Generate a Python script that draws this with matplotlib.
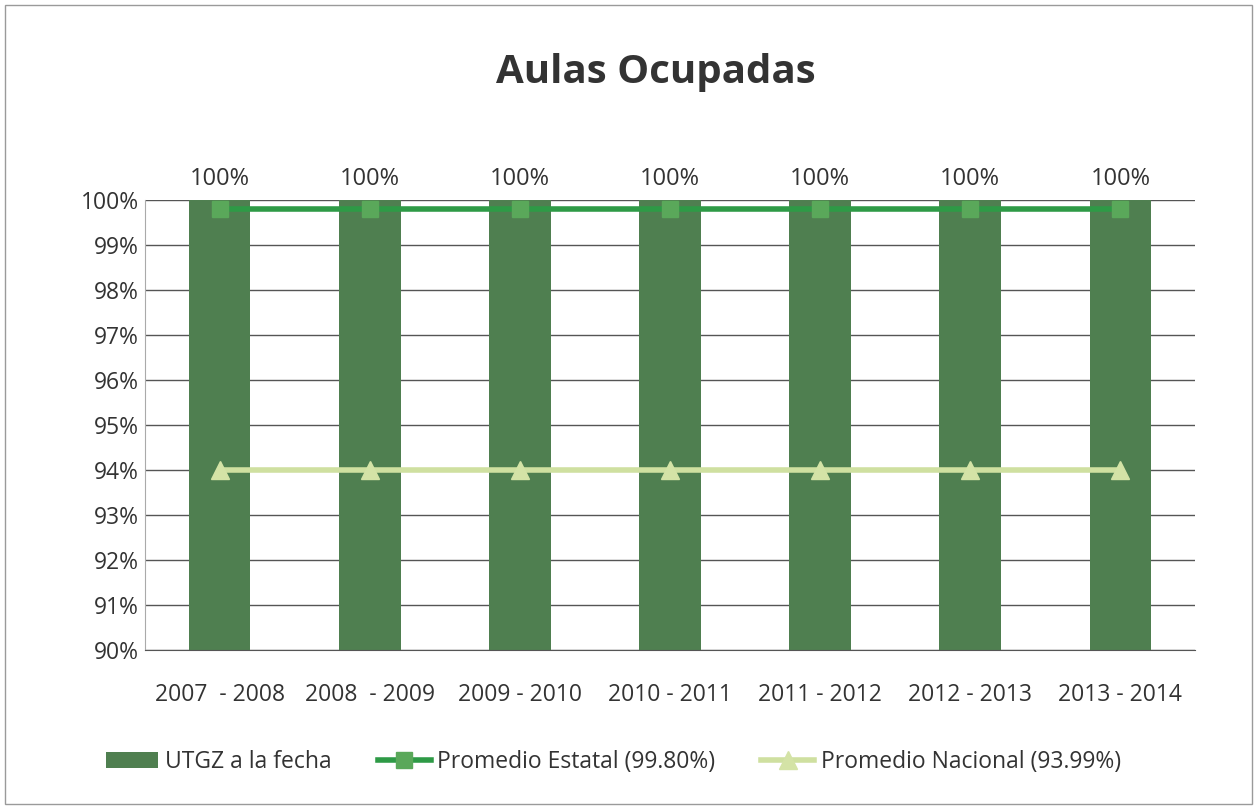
import matplotlib
matplotlib.use("Agg")
import matplotlib.pyplot as plt
from matplotlib.patches import Rectangle

categories = ["2007  - 2008", "2008  - 2009", "2009 - 2010", "2010 - 2011", "2011 - 2012", "2012 - 2013", "2013 - 2014"]
utgz = [100, 100, 100, 100, 100, 100, 100]
estatal = [99.80, 99.80, 99.80, 99.80, 99.80, 99.80, 99.80]
nacional = [93.99, 93.99, 93.99, 93.99, 93.99, 93.99, 93.99]
yticks = [90, 91, 92, 93, 94, 95, 96, 97, 98, 99, 100]

plt.rcParams['font.family'] = ['Open Sans', 'DejaVu Sans']

fig = plt.figure(figsize=(12.57, 8.09), dpi=100)
fig.patches.append(Rectangle((0.004, 0.006), 0.992, 0.988, transform=fig.transFigure,
                             fill=False, edgecolor='#9a9a9a', linewidth=1.0))
ax = fig.add_axes([0.115, 0.197, 0.836, 0.556])

x = list(range(len(categories)))
ax.bar(x, utgz, width=0.41, color='#4f7f50', zorder=2, label='UTGZ a la fecha')
ax.plot(x, estatal, color='#2e9a46', linewidth=4, marker='s', markersize=12,
        markerfacecolor='#5aa85a', markeredgecolor='#5aa85a', zorder=3,
        label='Promedio Estatal (99.80%)')
ax.plot(x, nacional, color='#cfe0a0', linewidth=4, marker='^', markersize=13,
        markerfacecolor='#d4e3a6', markeredgecolor='#d4e3a6', zorder=3,
        label='Promedio Nacional (93.99%)')

for xi, v in zip(x, utgz):
    ax.text(xi, v + 0.2, f"{v:.0f}%", ha='center', va='bottom', fontsize=17, color='#333333')

ax.set_ylim(90, 100)
ax.set_xlim(-0.5, len(categories) - 0.5)
ax.set_yticks(yticks)
ax.set_yticklabels([f"{t}%" for t in yticks], fontsize=16.5, color='#333333')
ax.set_xticks(x)
ax.set_xticklabels(categories, fontsize=16.5, color='#333333')
ax.tick_params(axis='y', length=0, pad=4)
ax.tick_params(axis='x', length=0, pad=24)
ax.yaxis.grid(True, color='#555555', linewidth=1.0, zorder=0)
ax.set_axisbelow(True)
for s in ['top', 'right']:
    ax.spines[s].set_visible(False)
ax.spines['left'].set_color('#aaaaaa')
ax.spines['bottom'].set_color('#555555')

fig.text(0.522, 0.911, "Aulas Ocupadas", ha='center', va='center', fontsize=29,
         fontweight='bold', color='#333333')

h, l = ax.get_legend_handles_labels()
order = [2, 0, 1]
leg = fig.legend([h[i] for i in order], [l[i] for i in order], loc='center',
                 bbox_to_anchor=(0.488, 0.058), ncol=3, frameon=False,
                 fontsize=16.5, handlelength=2.3, columnspacing=2.0, handletextpad=0.3)
for t in leg.get_texts():
    t.set_color('#333333')

fig.savefig("out.png", dpi=100)
